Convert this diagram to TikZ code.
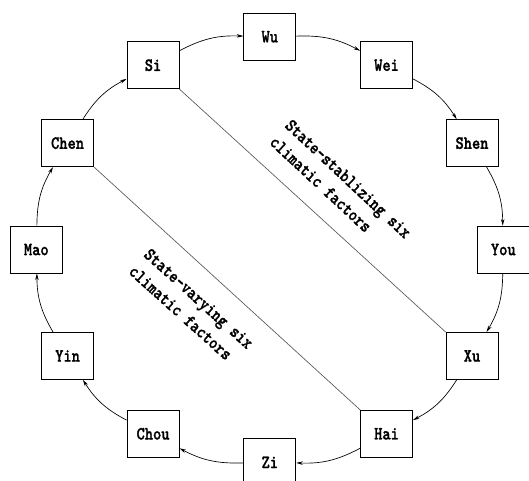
\documentclass[tikz,border=0pt]{standalone}
\usepackage{fontspec}
\newfontfamily\branchfont[Extension=.otf,FakeStretch=0.84,FakeBold=1.2]{lmmonolt10-bold}
\usetikzlibrary{arrows.meta}

\begin{document}
\begin{tikzpicture}[x=0.75pt,y=-0.75pt,
  branch/.style={draw,line width=0.6pt,minimum width=39pt,minimum height=35.25pt,inner sep=0pt,
    font=\branchfont\fontsize{14}{17}\selectfont},
  flow/.style={-{Stealth[length=5pt,width=2.6pt]},line width=0.5pt},
  split/.style={draw=black!65,line width=0.5pt},
  group/.style={font=\branchfont\fontsize{14}{17}\selectfont,align=left,inner sep=0pt}]
\useasboundingbox (0,0) rectangle (529,480);

% twelve branches round the ring
\foreach \name/\ang in {Wu/90,Wei/60,Shen/30,You/0,Xu/-30,Hai/-60,Zi/-90,Chou/-120,Yin/-150,Mao/180,Chen/150,Si/120}
  \node[branch] (\name) at ({269.8+233.5*cos(\ang)},{249.5-212.8*sin(\ang)}) {\name};

\foreach \a/\b in {Si/Wu,Wu/Wei,Wei/Shen,Shen/You,You/Xu,Xu/Hai,Hai/Zi,Zi/Chou,Chou/Yin,Yin/Mao,Mao/Chen,Chen/Si}
  \draw[flow] (\a) to[bend left=15] (\b);

\draw[split] (Si.south east) -- (Xu.north west);
\draw[split] (Chen.south east) -- (Hai.north west);

\node[group,rotate=-43] (stable) at (340.6,187.1) {State-stablizing six\\climatic factors};
\node[group,rotate=-42] (varying) at (191.3,307) {State-varying six\\climatic factors};

\end{tikzpicture}
\end{document}
